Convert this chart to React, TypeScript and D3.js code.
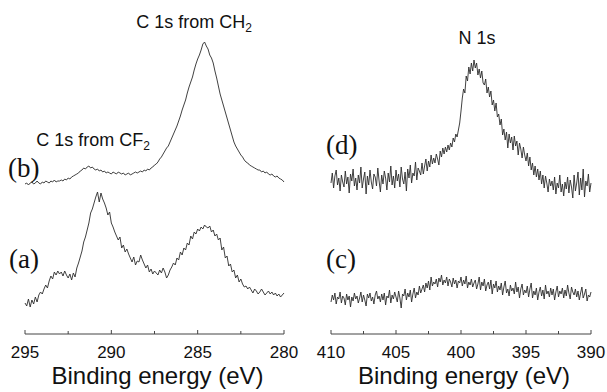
import React from 'react';
import * as d3 from 'd3';

// XPS spectra, intensity in arbitrary units
// C 1s region: 295 -> 280 eV, 0.1 eV steps
const c1sStart = 295;
const c1sEnd = 280;
const c1sTicks = [295, 290, 285, 280];

const spectrumB = [
  149, 150, 148, 150, 151, 149, 150, 152, 150, 149, 151,
  150, 152, 151, 150, 152, 151, 153, 151, 152, 152,
  153, 152, 154, 153, 155, 154, 156, 157, 158, 159,
  160, 162, 163, 165, 164, 166,
  167, 165, 166, 164, 163, 164, 162, 163, 161,
  162, 160, 161, 160, 159, 161, 160, 159, 161, 160,
  159, 160, 158, 159, 160, 158, 159, 160, 161, 160,
  161, 162, 161, 163, 162, 164, 163, 165,
  166, 168, 169, 171, 174, 176, 179, 182,
  185, 187, 191, 195, 199, 203, 207, 212,
  217, 223, 228, 233, 240, 246, 251, 256,
  263, 269, 274, 278, 283, 289, 291,
  287, 284, 278, 275, 270, 262, 255,
  247, 239, 233, 227, 221, 215, 209, 203,
  197, 191, 187, 184, 181, 178, 176,
  173, 171, 170, 168, 167, 166, 165, 164, 163,
  163, 161, 162, 160, 161, 159, 158, 159, 157, 156,
  157, 155, 154, 153, 151,
];

const spectrumA = [
  30, 27, 34, 26, 33, 29, 36, 31, 38, 41,
  39, 44, 48, 45, 52, 57, 54, 61, 58, 62,
  59, 61, 57, 62, 58, 55, 59, 53, 60, 56,
  65, 70, 76, 82, 91, 96, 103, 110, 120, 124,
  130, 136, 141, 131, 140, 134, 130, 125, 118, 121,
  110, 106, 101, 97, 93, 96, 85, 88, 81, 84,
  79, 75, 71, 76, 68, 72, 71, 78, 73, 69,
  65, 68, 61, 64, 59, 62, 60, 58, 63, 60,
  65, 61, 55, 58, 63, 66, 70, 68, 75, 73,
  81, 78, 85, 83, 90, 88, 97, 94, 101, 99,
  104, 102, 106, 104, 108, 106, 105, 107, 101, 103,
  97, 99, 93, 95, 83, 86, 75, 77, 67, 69,
  61, 63, 55, 58, 51, 54, 49, 46, 47, 44,
  46, 43, 40, 44, 42, 39, 41, 44, 41, 38,
  40, 42, 39, 41, 38, 40, 37, 39, 36, 38, 40,
];

// N 1s region: 410 -> 390 eV, 0.1 eV steps
const n1sStart = 410;
const n1sEnd = 390;
const n1sTicks = [410, 405, 400, 395, 390];

const spectrumD = [
  150, 160, 145, 157, 163, 148, 155, 142, 158, 151,
  146, 162, 149, 156, 140, 159, 152, 164, 147, 155,
  143, 158, 150, 166, 145, 154, 161, 139, 157, 148,
  163, 151, 144, 159, 156, 147, 165, 152, 141, 158,
  149, 162, 155, 143, 160, 151, 167, 148, 157, 145,
  163, 152, 159, 146, 166, 154, 149, 161, 142, 164,
  155, 168, 150, 160, 157, 171, 153, 165, 162, 158,
  170, 159, 167, 174, 162, 172, 166, 178, 169, 175,
  170, 179, 174, 168, 182, 176, 185, 179, 186, 181,
  188, 183, 190, 186, 195, 191, 199, 196, 203, 210,
  222, 235, 244, 240, 257, 252, 266, 259, 270, 262,
  273, 265, 270, 258, 264, 255, 262, 250, 248, 254,
  240, 246, 236, 242, 228, 233, 222, 230, 216, 219,
  208, 214, 198, 204, 193, 201, 185, 199, 190, 196,
  183, 197, 187, 192, 178, 190, 184, 175, 186, 178,
  172, 180, 167, 176, 163, 170, 158, 167, 156, 164,
  153, 162, 149, 158, 145, 157, 150, 141, 154, 147,
  152, 143, 156, 139, 150, 145, 158, 141, 149, 137,
  151, 144, 156, 140, 153, 146, 135, 158, 142, 150,
  161, 138, 155, 143, 164, 136, 152, 147, 159, 141,
  150,
];

const spectrumC = [
  31, 38, 33, 40, 29, 36, 34, 41, 30, 37,
  35, 28, 39, 33, 37, 26, 36, 32, 40, 34,
  37, 30, 35, 41, 31, 38, 33, 27, 39, 35,
  40, 32, 36, 29, 38, 42, 34, 37, 31, 39,
  33, 40, 28, 37, 35, 43, 30, 38, 34, 41,
  36, 31, 42, 35, 25, 39, 37, 44, 33, 40,
  36, 43, 31, 39, 45, 35, 41, 38, 47, 40,
  44, 48, 41, 50, 45, 52, 43, 56, 47, 51,
  49, 54, 46, 55, 51, 58, 48, 53, 50, 56,
  47, 54, 51, 46, 55, 49, 53, 45, 52, 50,
  56, 47, 53, 49, 57, 45, 51, 48, 54, 46,
  50, 53, 44, 49, 56, 43, 51, 47, 54, 42,
  48, 51, 44, 53, 39, 49, 45, 52, 41, 47,
  43, 50, 38, 46, 52, 40, 44, 37, 48, 42,
  45, 39, 51, 41, 46, 35, 44, 49, 38, 43,
  40, 47, 36, 44, 50, 35, 42, 38, 45, 33,
  41, 46, 37, 43, 34, 48, 39, 42, 36, 45,
  38, 44, 33, 41, 47, 36, 42, 39, 45, 35,
  43, 37, 48, 40, 34, 46, 41, 38, 44, 36,
  42, 33, 40, 46, 35, 39, 44, 32, 38, 36,
  41,
];

const W = 607;
const H = 392;
const axisY = 334;
const sans = "'Liberation Sans', Arial, sans-serif";
const serif = "'Liberation Serif', 'Times New Roman', serif";

const yScale = d3.scaleLinear().domain([0, 300]).range([333, 33]);

const toPoints = (vals: number[], start: number, end: number) =>
  vals.map((v, i) => [start + ((end - start) * i) / (vals.length - 1), v] as [number, number]);

interface PanelProps {
  x: d3.ScaleLinear<number, number>;
  ticks: number[];
  series: [number, number][][];
}

const Panel: React.FC<PanelProps> = ({ x, ticks, series }) => {
  const line = d3.line<[number, number]>()
    .x(d => x(d[0]))
    .y(d => yScale(d[1]));
  const [d0, d1] = x.domain();
  const minor: number[] = [];
  for (let t = Math.min(d0, d1); t <= Math.max(d0, d1) + 1e-6; t += 2.5) minor.push(t);
  const [r0, r1] = x.range();
  return (
    <g>
      {series.map((s, i) => (
        <path key={i} d={line(s) || ''} fill="none" stroke="#2b2b2b" strokeWidth={0.9} />
      ))}
      <line x1={r0} x2={r1} y1={axisY} y2={axisY} stroke="#444" strokeWidth={1} />
      {minor.map(t => (
        <line key={t} x1={x(t)} x2={x(t)} y1={axisY} y2={axisY - (t % 5 === 0 ? 4 : 3)} stroke="#444" strokeWidth={1} />
      ))}
      {ticks.map(t => (
        <text key={t} x={x(t)} y={358} textAnchor="middle" fontFamily={sans} fontSize={17} fill="#111">{t}</text>
      ))}
      <text x={(r0 + r1) / 2 + 3} y={384} textAnchor="middle" fontFamily={sans} fontSize={24} fill="#111">
        Binding energy (eV)
      </text>
    </g>
  );
};

export default function App() {
  const xLeft = d3.scaleLinear().domain([c1sStart, c1sEnd]).range([25, 284]);
  const xRight = d3.scaleLinear().domain([n1sStart, n1sEnd]).range([331, 591]);

  return (
    <svg width={W} height={H} style={{ position: 'absolute', left: 0, top: 0, background: '#fff' }}>
      <Panel x={xLeft} ticks={c1sTicks}
        series={[toPoints(spectrumB, c1sStart, c1sEnd), toPoints(spectrumA, c1sStart, c1sEnd)]} />
      <Panel x={xRight} ticks={n1sTicks}
        series={[toPoints(spectrumD, n1sStart, n1sEnd), toPoints(spectrumC, n1sStart, n1sEnd)]} />

      <text x={194} y={28} textAnchor="middle" fontFamily={sans} fontSize={18} fill="#111">
        C 1s from CH<tspan fontSize={12} dy={4}>2</tspan>
      </text>
      <text x={93} y={146} textAnchor="middle" fontFamily={sans} fontSize={18} fill="#111">
        C 1s from CF<tspan fontSize={12} dy={4}>2</tspan>
      </text>
      <text x={477} y={44} textAnchor="middle" fontFamily={sans} fontSize={18} fill="#111">N 1s</text>

      <text x={8} y={177} fontFamily={serif} fontSize={27} fill="#111">(b)</text>
      <text x={9} y={268} fontFamily={serif} fontSize={27} fill="#111">(a)</text>
      <text x={326} y={154} fontFamily={serif} fontSize={27} fill="#111">(d)</text>
      <text x={326} y={268} fontFamily={serif} fontSize={27} fill="#111">(c)</text>
    </svg>
  );
}
